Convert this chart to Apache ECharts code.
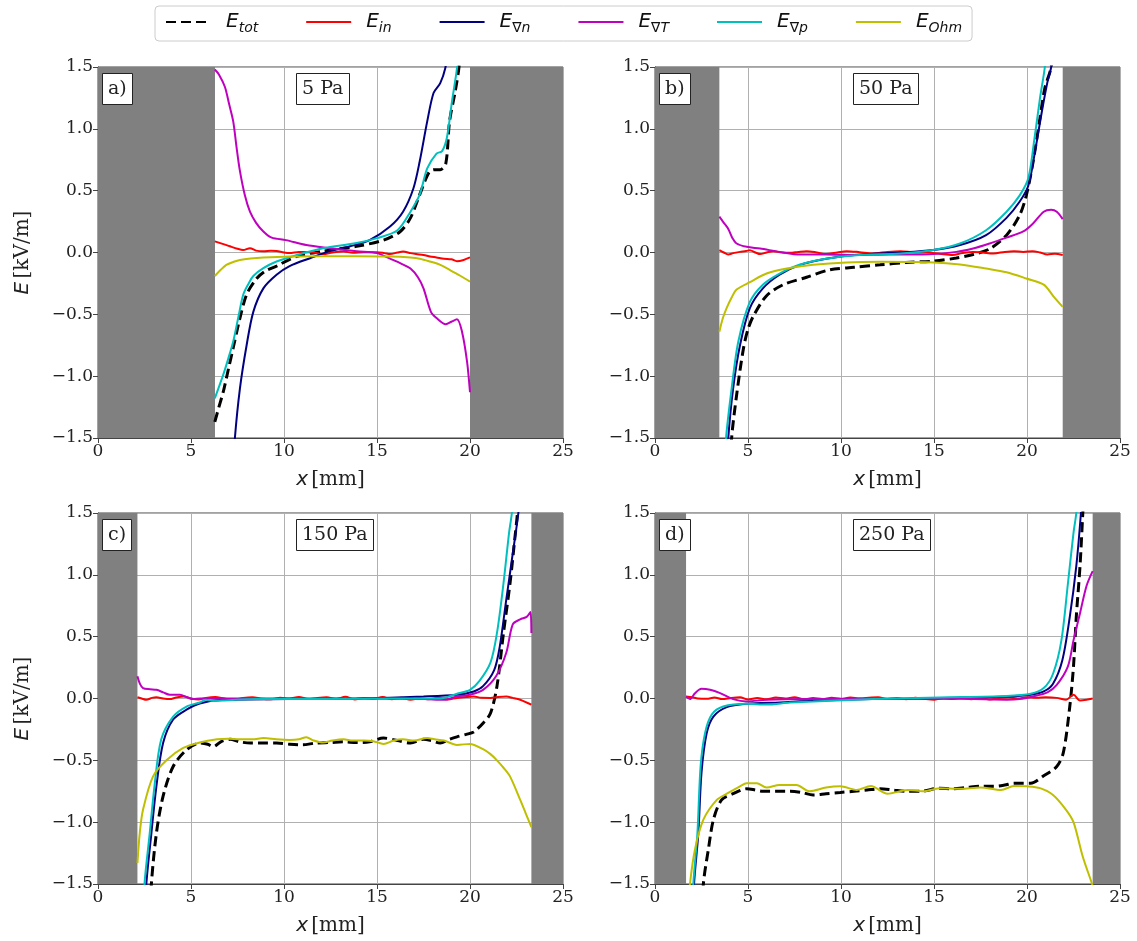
<!DOCTYPE html>
<html>
<head>
<meta charset="utf-8">
<script src="https://cdn.jsdelivr.net/npm/echarts@6/dist/echarts.min.js"></script>
<style>
  html, body { margin: 0; padding: 0; background: #fff; }
  #chart { width: 1137px; height: 941px; }
</style>
</head>
<body>
<div id="chart"></div>
<script>
  // labels of the four panels and the gas pressure of each
  const panelTags = ['a)', 'b)', 'c)', 'd)'];
  const pressures = ['5 Pa', '50 Pa', '150 Pa', '250 Pa'];
  // electrode walls (grey areas), in mm
  const wallLeft = [6.29, 3.46, 2.12, 1.67];
  const wallRight = [20.0, 21.92, 23.3, 23.53];
  const xTicks = [0, 5, 10, 15, 20, 25];
  const yTicks = [-1.5, -1.0, -0.5, 0.0, 0.5, 1.0, 1.5];

  // legend subscripts and colours
  const seriesNames = ['tot', 'in', '∇n', '∇T', '∇p', 'Ohm'];
  const seriesColors = ['#000000', '#ff0000', '#000080', '#bf00bf', '#00bfbf', '#bfbf00'];

  // ---- panel a) 5 Pa ----
  const aTot = [[6.28,-1.37],[6.5,-1.25],[6.73,-1.13],[7.0,-0.95],[7.27,-0.77],[7.6,-0.55],[7.99,-0.34],[8.53,-0.21],[9.0,-0.15],[9.6,-0.11],[10.7,-0.03],[12.1,0.01],[13.9,0.05],[15.35,0.10],[16.25,0.17],[16.8,0.28],[17.3,0.47],[17.8,0.65],[18.1,0.67],[18.4,0.67],[18.7,0.72],[18.9,1.06],[19.2,1.30],[19.4,1.49],[19.5,1.7]];
  const aIn = [[6.28,0.09],[6.7,0.07],[7.09,0.05],[7.5,0.03],[7.8,0.02],[8.17,0.035],[8.5,0.015],[8.9,0.01],[9.3,0.015],[9.6,0.013],[10.0,0.0],[10.3,-0.005],[10.8,0.005],[11.2,0.003],[11.6,0.0],[12.1,-0.013],[12.6,0.0],[13.2,0.008],[13.7,-0.002],[14.3,0.003],[15.0,0.003],[15.4,-0.005],[15.7,-0.013],[16.1,0.0],[16.4,0.008],[16.8,-0.005],[17.1,-0.013],[17.5,-0.02],[17.85,-0.032],[18.2,-0.04],[18.6,-0.05],[19.0,-0.055],[19.3,-0.07],[19.66,-0.06],[20.0,-0.04]];
  const aN = [[7.25,-1.8],[7.36,-1.5],[7.63,-1.10],[7.99,-0.75],[8.35,-0.48],[8.89,-0.29],[9.6,-0.18],[10.3,-0.11],[11.4,-0.046],[12.5,0.013],[13.55,0.05],[14.6,0.10],[15.7,0.21],[16.4,0.33],[16.96,0.52],[17.3,0.74],[17.7,1.06],[18.04,1.29],[18.4,1.37],[18.67,1.49],[18.9,1.7]];
  const aT = [[6.28,1.48],[6.5,1.44],[6.82,1.34],[7.05,1.2],[7.27,1.06],[7.45,0.85],[7.63,0.66],[7.9,0.46],[8.17,0.33],[8.5,0.24],[8.89,0.17],[9.34,0.12],[10.1,0.10],[11.2,0.06],[12.5,0.035],[13.9,0.01],[15.0,-0.005],[15.7,-0.05],[16.3,-0.09],[16.8,-0.13],[17.2,-0.2],[17.5,-0.29],[17.9,-0.48],[18.2,-0.53],[18.7,-0.58],[19.0,-0.56],[19.3,-0.54],[19.57,-0.64],[19.84,-0.88],[20.0,-1.13]];
  const aP = [[6.28,-1.18],[6.73,-0.99],[7.0,-0.86],[7.27,-0.72],[7.55,-0.52],[7.81,-0.34],[8.1,-0.25],[8.35,-0.19],[8.89,-0.127],[9.6,-0.073],[10.7,-0.02],[12.1,0.035],[13.9,0.076],[15.0,0.116],[16.1,0.18],[16.8,0.33],[17.3,0.47],[17.7,0.68],[18.2,0.80],[18.5,0.82],[18.76,0.93],[19.03,1.22],[19.3,1.49],[19.4,1.7]];
  const aOhm = [[6.28,-0.19],[6.6,-0.14],[6.9,-0.10],[7.3,-0.075],[7.63,-0.06],[8.2,-0.048],[8.9,-0.04],[10.3,-0.032],[12.1,-0.03],[13.9,-0.03],[15.7,-0.032],[16.8,-0.04],[17.3,-0.05],[17.85,-0.073],[18.4,-0.10],[18.9,-0.14],[19.5,-0.19],[20.0,-0.235]];

  // ---- panel b) 50 Pa ----
  const bTot = [[4.05,-1.8],[4.12,-1.5],[4.39,-1.15],[4.75,-0.78],[5.0,-0.62],[5.3,-0.51],[6.0,-0.35],[6.9,-0.26],[8.15,-0.20],[9.4,-0.14],[10.7,-0.12],[12.1,-0.10],[13.5,-0.08],[14.96,-0.07],[16.2,-0.045],[17.1,-0.016],[18.0,0.03],[18.9,0.14],[19.6,0.30],[19.96,0.46],[20.3,0.71],[20.7,1.09],[20.96,1.33],[21.3,1.5],[21.4,1.7]];
  const bIn = [[3.46,0.02],[3.7,0.0],[3.94,-0.016],[4.2,-0.005],[4.57,0.005],[4.9,0.012],[5.1,0.019],[5.4,0.0],[5.65,-0.013],[6.0,0.0],[6.36,0.011],[6.8,0.0],[7.26,-0.003],[7.7,0.005],[8.15,0.011],[8.7,0.0],[9.2,-0.013],[9.8,0.0],[10.3,0.011],[11.0,0.003],[11.7,-0.008],[12.5,0.005],[13.2,0.011],[14.0,0.0],[14.6,0.0],[15.3,-0.01],[16.0,-0.02],[16.5,-0.005],[17.1,0.005],[17.6,0.0],[18.2,-0.008],[18.8,0.005],[19.3,0.011],[19.8,0.005],[20.3,0.011],[20.7,0.0],[21.1,-0.016],[21.5,-0.01],[21.92,-0.02]];
  const bN = [[3.85,-1.8],[3.94,-1.5],[4.2,-1.10],[4.57,-0.75],[5.1,-0.45],[5.8,-0.29],[6.7,-0.18],[7.8,-0.10],[9.2,-0.05],[11.0,-0.016],[13.2,0.0],[14.96,0.02],[16.4,0.06],[17.8,0.14],[18.9,0.28],[19.6,0.41],[20.07,0.54],[20.4,0.79],[20.8,1.14],[21.1,1.38],[21.3,1.5],[21.4,1.7]];
  const bT = [[3.46,0.29],[3.7,0.24],[3.94,0.19],[4.15,0.12],[4.39,0.073],[4.93,0.046],[5.65,0.032],[6.7,0.005],[7.8,-0.016],[9.2,-0.016],[10.8,-0.02],[12.6,-0.016],[14.4,-0.016],[16.2,0.005],[17.1,0.032],[18.0,0.073],[18.9,0.12],[19.8,0.17],[20.3,0.23],[20.9,0.33],[21.3,0.345],[21.6,0.33],[21.92,0.27]];
  const bP = [[3.75,-1.8],[3.82,-1.5],[4.12,-1.10],[4.48,-0.72],[5.1,-0.40],[5.8,-0.26],[6.7,-0.17],[7.8,-0.097],[9.2,-0.05],[11.0,-0.02],[13.2,-0.008],[14.96,0.02],[16.4,0.073],[17.8,0.18],[18.9,0.33],[19.6,0.46],[20.07,0.60],[20.4,0.92],[20.7,1.25],[20.96,1.5],[21.05,1.7]];
  const bOhm = [[3.46,-0.64],[3.65,-0.53],[3.85,-0.45],[4.1,-0.37],[4.39,-0.30],[5.1,-0.24],[6.0,-0.17],[7.08,-0.13],[8.5,-0.10],[10.3,-0.08],[12.1,-0.075],[14.96,-0.08],[16.4,-0.097],[17.8,-0.13],[18.9,-0.16],[19.96,-0.21],[20.9,-0.26],[21.4,-0.35],[21.92,-0.44]];

  // ---- panel c) 150 Pa ----
  const cTot = [[2.8,-1.8],[2.87,-1.5],[3.14,-1.09],[3.5,-0.79],[4.04,-0.55],[4.76,-0.415],[5.47,-0.36],[5.9,-0.37],[6.2,-0.39],[6.6,-0.35],[7.1,-0.33],[7.6,-0.35],[8.2,-0.36],[9.0,-0.36],[9.6,-0.36],[10.3,-0.37],[11.0,-0.375],[11.7,-0.36],[12.5,-0.356],[13.2,-0.35],[13.9,-0.356],[14.6,-0.35],[15.35,-0.32],[16.1,-0.34],[16.8,-0.36],[17.5,-0.33],[17.9,-0.34],[18.4,-0.36],[18.9,-0.33],[19.3,-0.31],[19.8,-0.29],[20.2,-0.27],[20.7,-0.20],[21.1,-0.12],[21.45,0.10],[21.8,0.53],[22.15,0.93],[22.4,1.28],[22.55,1.5],[22.62,1.7]];
  const cIn = [[2.12,0.01],[2.35,0.0],[2.6,-0.01],[2.9,0.005],[3.14,0.01],[3.5,0.0],[3.86,-0.005],[4.2,0.008],[4.6,0.016],[5.0,0.0],[5.4,-0.008],[5.8,0.005],[6.3,0.012],[6.8,0.0],[7.3,-0.01],[7.8,0.004],[8.3,0.01],[8.8,-0.002],[9.3,-0.006],[9.8,0.006],[10.3,0.0],[10.8,0.012],[11.3,-0.005],[11.8,0.005],[12.3,0.01],[12.8,-0.004],[13.3,0.014],[13.8,-0.008],[14.3,0.004],[14.8,-0.005],[15.3,0.012],[15.8,-0.006],[16.3,0.006],[16.8,-0.01],[17.3,0.002],[17.8,-0.006],[18.3,0.008],[18.8,-0.008],[19.3,0.004],[19.8,0.012],[20.2,0.016],[20.6,0.006],[21.1,0.005],[21.5,0.012],[21.95,0.016],[22.3,0.005],[22.7,-0.01],[23.0,-0.03],[23.3,-0.05]];
  const cN = [[2.55,-1.8],[2.6,-1.5],[2.87,-1.09],[3.14,-0.71],[3.5,-0.36],[4.04,-0.17],[4.76,-0.09],[5.47,-0.04],[6.7,-0.011],[10.3,-0.005],[13.9,0.0],[17.5,0.016],[19.3,0.03],[20.2,0.057],[20.7,0.10],[21.3,0.23],[21.6,0.42],[21.95,0.80],[22.25,1.12],[22.6,1.5],[22.7,1.7]];
  const cT = [[2.12,0.18],[2.25,0.12],[2.42,0.084],[2.8,0.075],[3.14,0.07],[3.5,0.05],[3.86,0.03],[4.4,0.03],[4.8,0.01],[5.1,-0.005],[5.5,0.0],[6.0,0.0],[7.6,0.0],[10.3,0.0],[13.9,0.0],[17.5,-0.005],[18.6,-0.01],[19.3,0.016],[20.0,0.03],[20.7,0.07],[21.4,0.18],[21.95,0.37],[22.3,0.6],[22.7,0.64],[23.05,0.66],[23.25,0.70],[23.3,0.53]];
  const cP = [[2.45,-1.8],[2.5,-1.5],[2.78,-1.09],[3.05,-0.69],[3.4,-0.33],[4.04,-0.146],[4.76,-0.065],[5.47,-0.032],[5.8,-0.01],[6.2,-0.02],[6.7,-0.016],[8.5,-0.005],[12.1,-0.005],[15.7,0.0],[18.4,0.0],[19.3,0.038],[20.0,0.07],[20.5,0.14],[21.1,0.29],[21.45,0.53],[21.8,0.93],[22.1,1.34],[22.25,1.5],[22.32,1.7]];
  const cOhm = [[2.12,-1.33],[2.25,-1.08],[2.42,-0.90],[2.96,-0.63],[3.68,-0.50],[4.58,-0.40],[5.47,-0.356],[6.4,-0.33],[7.0,-0.325],[7.6,-0.33],[8.3,-0.33],[8.9,-0.32],[9.6,-0.33],[10.3,-0.335],[10.8,-0.33],[11.2,-0.313],[11.6,-0.34],[12.1,-0.356],[12.6,-0.34],[13.2,-0.33],[13.7,-0.34],[14.3,-0.34],[14.8,-0.345],[15.35,-0.367],[15.9,-0.34],[16.4,-0.33],[17.0,-0.34],[17.7,-0.32],[18.1,-0.33],[18.6,-0.34],[19.3,-0.375],[20.0,-0.367],[20.7,-0.41],[21.1,-0.45],[21.45,-0.50],[21.8,-0.56],[22.15,-0.63],[22.7,-0.82],[23.0,-0.93],[23.3,-1.04]];

  // ---- panel d) 250 Pa ----
  const dTot = [[2.55,-1.8],[2.6,-1.5],[2.87,-1.22],[3.14,-0.98],[3.58,-0.82],[4.2,-0.77],[4.93,-0.73],[5.4,-0.74],[5.8,-0.75],[6.5,-0.75],[7.26,-0.75],[7.9,-0.76],[8.5,-0.78],[9.2,-0.77],[9.96,-0.76],[10.7,-0.75],[11.4,-0.74],[12.1,-0.73],[12.8,-0.74],[13.5,-0.75],[14.3,-0.75],[15.3,-0.725],[16.0,-0.73],[16.75,-0.72],[17.5,-0.71],[18.2,-0.71],[18.8,-0.70],[19.3,-0.685],[20.2,-0.685],[20.9,-0.625],[21.6,-0.55],[21.95,-0.44],[22.3,-0.065],[22.5,0.26],[22.65,0.66],[22.85,1.07],[23.0,1.5],[23.07,1.7]];
  const dIn = [[1.67,0.016],[2.0,0.01],[2.3,0.0],[2.78,-0.003],[3.2,0.008],[3.6,-0.005],[4.1,0.005],[4.57,0.01],[5.0,-0.008],[5.5,0.004],[6.0,-0.006],[6.5,0.008],[7.0,0.0],[7.5,0.01],[8.0,-0.006],[8.5,0.004],[9.0,-0.004],[9.5,0.006],[10.0,-0.002],[10.5,0.008],[11.0,0.002],[11.5,0.006],[12.0,0.01],[12.5,-0.004],[13.0,0.004],[13.5,-0.006],[14.0,0.006],[14.5,-0.004],[15.0,-0.01],[15.5,0.004],[16.0,-0.004],[16.5,0.008],[17.0,-0.006],[17.5,0.004],[18.0,-0.008],[18.5,0.004],[19.0,0.008],[19.5,0.0],[20.0,0.01],[20.5,0.006],[21.0,0.01],[21.6,0.005],[22.1,-0.01],[22.5,0.03],[22.85,-0.016],[23.2,-0.01],[23.53,0.0]];
  const dN = [[2.05,-1.8],[2.1,-1.5],[2.33,-1.09],[2.5,-0.60],[2.78,-0.28],[3.14,-0.146],[3.86,-0.07],[4.93,-0.043],[6.7,-0.032],[8.5,-0.019],[11.7,-0.005],[15.3,0.0],[18.9,0.016],[20.2,0.03],[20.9,0.057],[21.4,0.12],[21.9,0.31],[22.3,0.66],[22.65,1.07],[22.9,1.5],[22.97,1.7]];
  const dT = [[1.67,0.016],[1.88,-0.005],[2.15,0.043],[2.5,0.078],[2.96,0.07],[3.5,0.043],[4.2,-0.005],[4.93,-0.024],[6.0,-0.011],[8.2,-0.005],[11.7,-0.005],[15.3,0.0],[18.9,-0.01],[19.6,-0.005],[20.3,0.016],[21.1,0.05],[21.6,0.11],[22.2,0.26],[22.5,0.47],[22.85,0.69],[23.2,0.91],[23.53,1.03]];
  const dP = [[2.0,-1.8],[2.06,-1.5],[2.28,-1.09],[2.45,-0.55],[2.69,-0.28],[3.05,-0.13],[3.67,-0.065],[4.93,-0.043],[6.0,-0.049],[7.26,-0.032],[8.5,-0.024],[11.7,-0.005],[15.3,0.008],[18.9,0.02],[20.2,0.038],[20.9,0.084],[21.4,0.2],[21.85,0.47],[22.2,0.93],[22.5,1.34],[22.65,1.5],[22.72,1.7]];
  const dOhm = [[1.8,-1.7],[1.88,-1.5],[2.15,-1.22],[2.6,-0.98],[3.32,-0.82],[3.86,-0.77],[4.57,-0.71],[4.93,-0.685],[5.47,-0.685],[6.0,-0.72],[6.7,-0.70],[7.6,-0.70],[8.3,-0.75],[9.2,-0.72],[9.96,-0.71],[10.85,-0.74],[11.6,-0.707],[12.5,-0.77],[13.6,-0.74],[14.4,-0.75],[15.3,-0.725],[16.4,-0.73],[17.5,-0.72],[18.6,-0.74],[19.3,-0.707],[20.0,-0.71],[20.7,-0.725],[21.4,-0.78],[22.1,-0.90],[22.5,-1.0],[23.0,-1.28],[23.5,-1.5],[23.53,-1.52]];

  const panelData = [
    [aTot, aIn, aN, aT, aP, aOhm],
    [bTot, bIn, bN, bT, bP, bOhm],
    [cTot, cIn, cN, cT, cP, cOhm],
    [dTot, dIn, dN, dT, dP, dOhm]
  ];

  const serif = 'DejaVu Serif';
  const sans = 'DejaVu Sans';
  const gridPos = [
    {left: 98, top: 67}, {left: 655, top: 67},
    {left: 98, top: 513}, {left: 655, top: 513}
  ];
  const tickFmt = v => v.toFixed(1).replace('-', '\u2212');

  let grids = [], xAxes = [], yAxes = [], series = [], titles = [];

  gridPos.forEach((g, i) => {
    grids.push({
      left: g.left, top: g.top, width: 465, height: 371,
      show: true, backgroundColor: '#fff', borderColor: '#444', borderWidth: 1
    });
    xAxes.push({
      type: 'value', gridIndex: i, min: xTicks[0], max: xTicks[xTicks.length - 1], interval: 5,
      name: '{i|x} {r|[mm]}', nameLocation: 'middle', nameGap: 32,
      nameTextStyle: {
        rich: {
          i: {fontFamily: sans, fontStyle: 'italic', fontSize: 20, color: '#222'},
          r: {fontFamily: serif, fontSize: 20, color: '#222'}
        }
      },
      axisLine: {show: true, onZero: false, lineStyle: {color: '#444'}},
      axisTick: {show: true, length: 5, lineStyle: {color: '#444'}},
      axisLabel: {fontFamily: serif, fontSize: 17, color: '#222', margin: 5},
      splitLine: {show: true, lineStyle: {color: '#b0b0b0', width: 1}}
    });
    yAxes.push({
      type: 'value', gridIndex: i, min: yTicks[0], max: yTicks[yTicks.length - 1], interval: 0.5,
      name: (i % 2 === 0) ? '{i|E} {r|[kV/m]}' : '', nameLocation: 'middle', nameGap: 65,
      nameTextStyle: {
        rich: {
          i: {fontFamily: sans, fontStyle: 'italic', fontSize: 20, color: '#222'},
          r: {fontFamily: serif, fontSize: 20, color: '#222'}
        }
      },
      axisLine: {show: true, onZero: false, lineStyle: {color: '#444'}},
      axisTick: {show: true, length: 5, lineStyle: {color: '#444'}},
      axisLabel: {fontFamily: serif, fontSize: 17, color: '#222', margin: 5, formatter: tickFmt},
      splitLine: {show: true, lineStyle: {color: '#b0b0b0', width: 1}}
    });

    const boxStyle = {
      backgroundColor: '#fff', borderColor: '#222', borderWidth: 1, padding: [5, 6],
      textStyle: {fontFamily: serif, fontSize: 19, fontWeight: 'normal', color: '#222', lineHeight: 22}
    };
    titles.push(Object.assign({text: panelTags[i], left: g.left + 4, top: g.top + 6}, boxStyle));
    titles.push(Object.assign({text: pressures[i], left: g.left + 198, top: g.top + 6}, boxStyle));

    panelData[i].forEach((pts, k) => {
      const s = {
        name: seriesNames[k], type: 'line', xAxisIndex: i, yAxisIndex: i,
        data: pts, symbol: 'none', smooth: 0.3, clip: true,
        lineStyle: {color: seriesColors[k], width: k === 0 ? 3 : 2, type: k === 0 ? [10, 5] : 'solid'},
        itemStyle: {color: seriesColors[k]},
        z: 3 + k
      };
      if (k === 0) {
        s.markArea = {
          silent: true,
          itemStyle: {color: '#808080'},
          data: [
            [{xAxis: 0}, {xAxis: wallLeft[i]}],
            [{xAxis: wallRight[i]}, {xAxis: 25}]
          ]
        };
      }
      series.push(s);
    });
  });

  const chart = echarts.init(document.getElementById('chart'));
  chart.setOption({
    animation: false,
    backgroundColor: '#fff',
    title: titles,
    legend: {
      data: seriesNames,
      left: 155, top: 6,
      padding: [6, 10],
      itemWidth: 45, itemHeight: 14, itemGap: 47,
      itemStyle: {opacity: 0},
      borderColor: '#ccc', borderWidth: 1, borderRadius: 4,
      formatter: n => '{e|E}{s|' + n + '}',
      textStyle: {
        rich: {
          e: {fontFamily: sans, fontStyle: 'italic', fontSize: 20, color: '#111', lineHeight: 26, padding: [0, 0, 0, 10]},
          s: {fontFamily: sans, fontStyle: 'italic', fontSize: 14, color: '#111', lineHeight: 14, verticalAlign: 'bottom'}
        }
      }
    },
    grid: grids,
    xAxis: xAxes,
    yAxis: yAxes,
    series: series
  });
</script>
</body>
</html>
